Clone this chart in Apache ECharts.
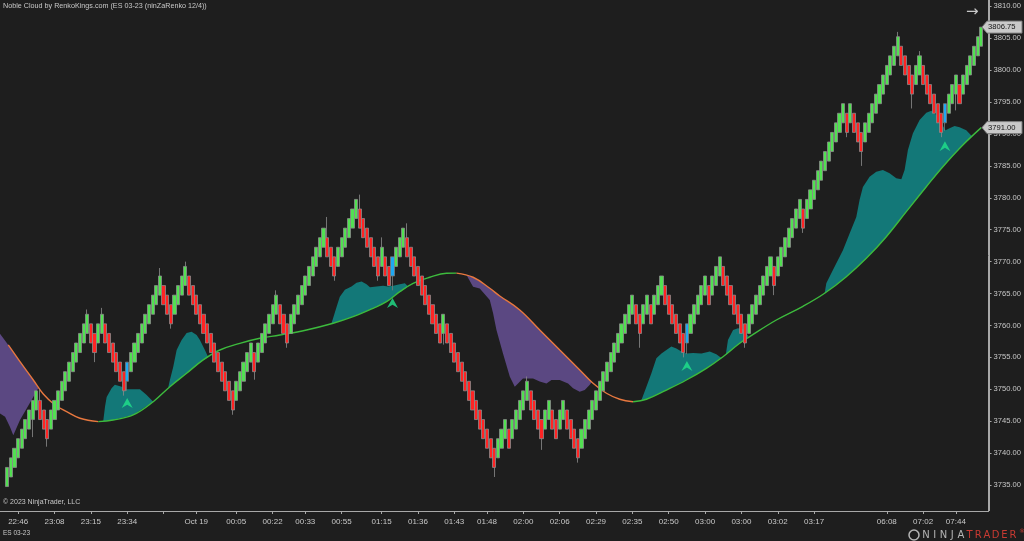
<!DOCTYPE html>
<html><head><meta charset="utf-8">
<script src="https://cdn.jsdelivr.net/npm/echarts@6/dist/echarts.min.js"></script>
<style>html,body{margin:0;padding:0;background:#1e1e1e;}#c{width:1024px;height:541px;}</style>
</head><body><div id="c"></div>
<script>
// ---------------- DATA ----------------
// Renko (ninZaRenko 12/4) bar closes, in bar order
const closes = [
 3737.75,3739.25,3740.75,3742.25,3743.75,3745.25,3746.75,3748.25,3749.75,
 3745.25,3743.75,3742.25,
 3746.75,3748.25,3749.75,3751.25,3752.75,3754.25,3755.75,3757.25,3758.75,3760.25,3761.75,
 3757.25,3755.75,
 3760.25,3761.75,
 3757.25,3755.75,3754.25,3752.75,3751.25,3749.75,
 3754.25,3755.75,3757.25,3758.75,3760.25,3761.75,3763.25,3764.75,3766.25,3767.75,
 3763.25,3761.75,3760.25,
 3764.75,3766.25,3767.75,3769.25,
 3764.75,3763.25,3761.75,3760.25,3758.75,3757.25,3755.75,3754.25,3752.75,3751.25,3749.75,3748.25,3746.75,
 3751.25,3752.75,3754.25,3755.75,3757.25,
 3752.75,
 3757.25,3758.75,3760.25,3761.75,3763.25,3764.75,
 3760.25,3758.75,3757.25,
 3761.75,3763.25,3764.75,3766.25,3767.75,3769.25,3770.75,3772.25,3773.75,3775.25,
 3770.75,3769.25,3767.75,
 3772.25,3773.75,3775.25,3776.75,3778.25,3779.75,
 3775.25,3773.75,3772.25,3770.75,3769.25,3767.75,
 3772.25,
 3767.75,3766.25,
 3770.75,3772.25,3773.75,3775.25,
 3770.75,3769.25,3767.75,3766.25,3764.75,3763.25,3761.75,3760.25,3758.75,3757.25,
 3761.75,
 3757.25,3755.75,3754.25,3752.75,3751.25,3749.75,3748.25,3746.75,3745.25,3743.75,3742.25,3740.75,3739.25,3737.75,
 3742.25,3743.75,3745.25,
 3740.75,
 3745.25,3746.75,3748.25,3749.75,3751.25,
 3746.75,3745.25,3743.75,3742.25,
 3746.75,3748.25,
 3743.75,3742.25,
 3746.75,3748.25,
 3743.75,3742.25,3740.75,3739.25,
 3743.75,3745.25,3746.75,3748.25,3749.75,3751.25,3752.75,3754.25,3755.75,3757.25,3758.75,3760.25,3761.75,3763.25,3764.75,
 3760.25,3758.75,
 3763.25,3764.75,
 3760.25,
 3764.75,3766.25,3767.75,
 3763.25,3761.75,3760.25,3758.75,3757.25,3755.75,
 3760.25,3761.75,3763.25,3764.75,3766.25,3767.75,
 3763.25,
 3767.75,3769.25,3770.75,
 3766.25,3764.75,3763.25,3761.75,3760.25,3758.75,3757.25,
 3761.75,3763.25,3764.75,3766.25,3767.75,3769.25,3770.75,
 3766.25,
 3770.75,3772.25,3773.75,3775.25,3776.75,3778.25,3779.75,
 3775.25,
 3779.75,3781.25,3782.75,3784.25,3785.75,3787.25,3788.75,3790.25,3791.75,3793.25,3794.75,
 3790.25,
 3794.75,
 3790.25,3788.75,3787.25,
 3791.75,3793.25,3794.75,3796.25,3797.75,3799.25,3800.75,3802.25,3803.75,3805.25,
 3800.75,3799.25,3797.75,3796.25,
 3800.75,3802.25,
 3797.75,3796.25,3794.75,3793.25,3791.75,3790.25,
 3794.75,3796.25,3797.75,3799.25,
 3794.75,
 3799.25,3800.75,3802.25,3803.75,3805.25,3806.75
];
const brickSize = 3; // 12 ticks
// visible wicks: [bar, low, high] (null = body edge)
const wicks = [
 [7,3742.5,null],[9,null,3750.0],[11,3741.0,null],[22,null,3762.5],[24,3754.25,null],[26,null,3762.75],
 [32,3749.0,null],[33,3749.75,null],[42,null,3769.0],[45,3759.5,null],[49,null,3770.0],[62,3746.0,null],
 [68,3751.5,null],[74,null,3765.5],[77,3756.5,null],[88,null,3777.0],[90,3767.0,null],[97,null,3780.5],
 [102,3767.0,null],[103,null,3773.8],[106,3765.5,null],[110,null,3776.0],[120,3757.0,null],[134,3736.25,null],
 [143,null,3752.0],[147,3740.5,null],[157,3738.5,null],[174,3756.5,null],[186,3755.0,null],[187,3755.5,null],
 [203,3756.5,null],[211,3764.75,null],[219,3774.5,null],[231,3789.5,null],[235,3785.0,null],[245,null,3806.0],
 [249,3794.0,null],[251,null,3803.0],[257,3789.5,null],[258,3790.5,null],[261,3793.7,null]
];
const signalBars = [33,106,187,258];
const arrowPrices = [3747.85,3763.5,3753.65,3788.1];
// x-axis tick bars and their labels
const tickBars = [3,13,23,33,43,52,63,73,82,92,103,113,123,132,142,152,162,172,182,192,202,212,222,242,252,261];
const tickLabels = ['22:46','23:08','23:15','23:34','','Oct 19','00:05','00:22','00:33','00:55','01:15','01:36','01:43','01:48','02:00','02:06','02:29','02:35','02:50','03:00','03:00','03:02','03:17','06:08','07:02','07:44'];
const yTicks = [3735,3740,3745,3750,3755,3760,3765,3770,3775,3780,3785,3790,3795,3800,3805,3810];
// moving-average line: [bar position, price]
const maLine = [
 [0.28,3756.94],[3.5,3754.32],[7.16,3751.45],[9.91,3749.26],[13.13,3747.53],[16.34,3746.48],[20.0,3745.45],[25.04,3744.92],
 [29.16,3745.18],[34.66,3745.97],[40.16,3748.05],[44.75,3750.4],[49.35,3752.5],[53.91,3754.6],[58.5,3756.15],[64.0,3757.2],
 [69.5,3757.99],[75.0,3758.5],[82.35,3759.29],[89.67,3760.34],[95.17,3761.37],[100.67,3762.69],[104.35,3763.72],[108.01,3765.29],
 [111.67,3766.61],[116.26,3767.55],[120.86,3768.17],[123.6,3768.2],[128.17,3767.55],[132.76,3765.82],[135.51,3764.62],[141.01,3762.42],
 [146.51,3759.29],[152.02,3756.15],[157.52,3753.02],[161.17,3750.93],[164.86,3749.37],[168.52,3748.43],[172.18,3748.05],[175.86,3748.43],
 [181.36,3749.88],[186.86,3751.45],[192.36,3753.28],[196.93,3755.1],[201.52,3757.2],[204.27,3758.24],[211.61,3760.85],[218.93,3763.0],
 [224.9,3765.04],[230.86,3767.64],[236.36,3770.52],[241.87,3773.91],[247.37,3777.83],[252.87,3781.74],[257.43,3784.88],[262.93,3788.28],
 [267.99,3791.0]
];
// cloud outer edges: [bar position, price]
const bearCloud1 = [[-2,3758.7],[-2,3746.2],[-0.6,3745.7],[0.75,3744.1],[1.66,3742.8],[3.5,3745.2],[5.34,3747.0],[7.16,3748.8],[8.53,3750.15]];
const bullCloud1 = [[26.4,3745.0],[26.9,3747.3],[27.35,3748.8],[28.7,3750.15],[29.6,3750.7],[31.5,3750.4],[32.85,3750.0],[36.5,3750.0],[38.35,3749.1],[40.16,3748.05]];
const bullCloud2 = [[44.3,3750.3],[44.75,3751.45],[45.66,3753.5],[46.6,3756.15],[47.97,3757.7],[49.35,3758.8],[50.72,3759.0],[52.1,3758.5],[53.0,3757.7],[54.38,3756.15],[55.3,3755.0]];
const bullCloud3 = [[89.2,3760.3],[90.6,3762.9],[91.5,3764.5],[92.9,3765.6],[94.7,3766.1],[96.1,3766.7],[97.5,3766.9],[98.85,3766.45],[99.8,3766.0],[101.6,3766.1],[103.4,3766.2],[104.8,3766.1],[106.2,3766.2],[108.0,3766.45],[109.4,3766.6],[110.3,3766.1]];
const bearCloud2 = [[126.35,3767.9],[128.17,3766.07],[130.0,3765.8],[132.76,3764.0],[133.67,3761.9],[134.6,3759.3],[136.4,3755.6],[138.26,3752.0],[139.64,3750.4],[141.9,3751.7],[144.67,3751.7],[146.5,3751.2],[148.36,3750.9],[149.73,3751.45],[152.0,3751.45],[154.3,3750.9],[155.68,3750.15],[157.5,3749.6],[158.9,3749.9],[160.27,3750.7],[160.82,3751.15]];
const bullCloud4 = [[174.5,3748.3],[175.86,3750.4],[177.23,3752.5],[178.6,3754.85],[180.0,3755.6],[181.36,3756.15],[182.74,3756.7],[184.1,3756.4],[185.5,3755.9],[186.86,3755.6],[188.7,3755.7],[191.0,3755.6],[193.3,3755.9],[195.1,3755.5],[196.5,3754.9]];
const bullCloud5 = [[197.7,3755.4],[198.3,3757.7],[199.7,3759.3],[201.05,3759.55],[202.4,3759.45],[203.4,3758.7],[204.0,3758.25]];
const bullCloud6 = [[224.9,3765.04],[225.36,3766.6],[227.18,3768.7],[229.93,3771.8],[231.77,3774.4],[233.61,3777.0],[234.52,3779.7],[235.43,3781.7],[237.27,3783.3],[239.11,3784.1],[240.93,3784.35],[242.77,3783.85],[244.62,3783.05],[246.0,3782.9],[246.9,3784.35],[247.81,3787.5],[249.19,3790.1],[251.03,3792.2],[252.87,3793.35],[254.25,3793.65],[255.62,3793.0],[257.0,3791.7],[258.17,3790.6],[259.27,3790.9],[260.65,3791.25],[262.03,3791.05],[263.87,3790.6],[265.5,3789.6]];
const bullClouds = [bullCloud1,bullCloud2,bullCloud3,bullCloud4,bullCloud5,bullCloud6];
const bearClouds = [bearCloud1,bearCloud2];

// ---------------- STYLE ----------------
const BG='#1e1e1e', UP='#52e052', DOWN='#ff2424', OUTLINE='#8c8c8c', BLUE='#1ea8f2';
const TEAL='#137878', PURPLE='#5b4882', MA_UP='#3dbb3d', MA_DN='#e8783f', ARROW='#21e38b', TXT='#c8c8c8', AX='#a8a8a8';
const FONT='Liberation Sans';
const LEAD=2, TRAIL=2;
const nCat = closes.length+LEAD+TRAIL;
const xMin=-LEAD, xMax=closes.length-1+TRAIL;

const cats=[]; for(let k=0;k<nCat;k++) cats.push('');
const tickSet=new Set();
tickBars.forEach((b,j)=>{cats[b+LEAD]=tickLabels[j]; tickSet.add(b+LEAD);});

const wickMap={}; wicks.forEach(w=>wickMap[w[0]]=w);
const candles=[];
for(let k=0;k<LEAD;k++) candles.push('-');
closes.forEach((c,i)=>{
  const up = i===0 || c>closes[i-1];
  const o = up? c-brickSize : c+brickSize;
  let lo=Math.min(o,c), hi=Math.max(o,c);
  const w=wickMap[i]; if(w){ if(w[1]!=null) lo=w[1]; if(w[2]!=null) hi=w[2]; }
  const item={value:[o,c,lo,hi]};
  if(signalBars.includes(i)) item.itemStyle={color:BLUE,color0:BLUE,borderColor:'#7a7a7a',borderColor0:'#7a7a7a'};
  candles.push(item);
});
for(let k=0;k<TRAIL;k++) candles.push('-');

function poly(edge){
  const a=edge[0][0], b=edge[edge.length-1][0];
  const back=maLine.filter(p=>p[0]>Math.min(a,b)&&p[0]<Math.max(a,b)).slice().reverse();
  return edge.concat(back);
}
function cloudSeries(list,color){
  const polys=list.map(poly);
  return {type:'custom',coordinateSystem:'cartesian2d',xAxisIndex:1,yAxisIndex:0,silent:true,z:1,
    data:polys.map(p=>p[0]),
    renderItem:(params,api)=>({type:'polygon',shape:{points:polys[params.dataIndex].map(p=>api.coord(p))},style:{fill:color}})};
}
// split MA line into rising / falling runs
const segs=[]; let cur=[maLine[0]]; let curFall=maLine[1][1]<maLine[0][1];
for(let j=1;j<maLine.length;j++){
  const fall=maLine[j][1]<maLine[j-1][1];
  if(fall!==curFall){segs.push({fall:curFall,pts:cur}); cur=[maLine[j-1]]; curFall=fall;}
  cur.push(maLine[j]);
}
segs.push({fall:curFall,pts:cur});
const maSeries=segs.map(s=>({type:'line',xAxisIndex:1,yAxisIndex:0,data:s.pts,smooth:0.4,showSymbol:false,silent:true,z:3,clip:false,
  lineStyle:{color:s.fall?MA_DN:MA_UP,width:1.4}}));

const chart=echarts.init(document.getElementById('c'),null,{renderer:'canvas'});
const option={
  backgroundColor:BG, animation:false,
  textStyle:{fontFamily:FONT},
  grid:{left:0,right:35,top:0,bottom:30,containLabel:false},
  xAxis:[
    {type:'category',data:cats,boundaryGap:false,
     axisLine:{show:true,onZero:false,lineStyle:{color:AX,width:1}},
     axisTick:{show:true,interval:(i)=>tickSet.has(i),length:3,lineStyle:{color:AX}},
     axisLabel:{interval:(i)=>tickSet.has(i),color:TXT,fontSize:8,margin:7,fontFamily:FONT},
     splitLine:{show:false}},
    {type:'value',min:xMin,max:xMax,show:false,splitLine:{show:false},axisLine:{onZero:false}}
  ],
  yAxis:[{type:'value',position:'right',min:3730.92,max:3811.0,scale:true,
     axisLine:{show:true,onZero:false,lineStyle:{color:AX,width:1}},
     axisTick:{show:true,length:3,customValues:yTicks,lineStyle:{color:AX}},
     axisLabel:{customValues:yTicks,color:TXT,fontSize:7.6,margin:5,fontFamily:FONT,formatter:v=>v.toFixed(2)},
     splitLine:{show:false}}],
  series:[
    cloudSeries(bullClouds,TEAL),
    cloudSeries(bearClouds,PURPLE),
    ...maSeries,
    {type:'candlestick',xAxisIndex:0,yAxisIndex:0,data:candles,barWidth:3.6,z:4,silent:true,
     itemStyle:{color:UP,color0:DOWN,borderColor:OUTLINE,borderColor0:OUTLINE,borderWidth:0.8}},
    {type:'scatter',xAxisIndex:1,yAxisIndex:0,z:5,silent:true,
     data:signalBars.map((b,j)=>[b,arrowPrices[j]]),
     symbol:'path://M5,0 L10,9 L5,6 L0,9 Z',symbolSize:[11,10],itemStyle:{color:ARROW}}
  ]
};
chart.setOption(option);

function tag(price,text){
  const y=chart.convertToPixel({yAxisIndex:0},price);
  const x0=982, x1=1022;
  return [{type:'polygon',shape:{points:[[x0,y],[x0+5,y-6],[x1,y-6],[x1,y+6],[x0+5,y+6]]},
           style:{fill:'#c9c9c9',stroke:'#7d7d7d',lineWidth:1},z:10},
          {type:'text',x:x0+6,y:y,style:{text:text,fill:'#111',font:'7.6px '+FONT,textVerticalAlign:'middle'},z:11}];
}
const lastClose=closes[closes.length-1], lastMa=maLine[maLine.length-1][1];
const logoText='NINJATRADER';
const logoLetters=logoText.split('').map((ch,j)=>({type:'text',x:926+j*8.7,y:535,
  style:{text:ch,fill:j<5?'#b5b5b5':'#c83a32',font:'10px DejaVu Sans',textAlign:'center',textVerticalAlign:'middle'}}));
chart.setOption({graphic:[
  {type:'text',left:3,top:3,style:{text:'Noble Cloud by RenkoKings.com (ES 03-23 (ninZaRenko 12/4))',fill:TXT,font:'7.2px '+FONT}},
  {type:'text',left:3,top:499,style:{text:'© 2023 NinjaTrader, LLC',fill:TXT,font:'7px '+FONT}},
  {type:'text',left:3,top:530,style:{text:'ES 03-23',fill:TXT,font:'6.5px '+FONT}},
  {type:'text',left:966,top:5,style:{text:'→',fill:TXT,font:'15px DejaVu Sans'}},
  ...logoLetters,
  {type:'text',x:1019,y:531,style:{text:'®',fill:'#c83a32',font:'6px DejaVu Sans',textVerticalAlign:'middle'}},
  {type:'circle',shape:{cx:914,cy:535,r:5},style:{fill:'none',stroke:'#b5b5b5',lineWidth:1.5}},
  {type:'line',shape:{x1:989.5,y1:0,x2:989.5,y2:511},style:{stroke:AX,lineWidth:1}},
  ...tag(lastClose,lastClose.toFixed(2)),
  ...tag(lastMa,lastMa.toFixed(2))
]});
</script></body></html>
